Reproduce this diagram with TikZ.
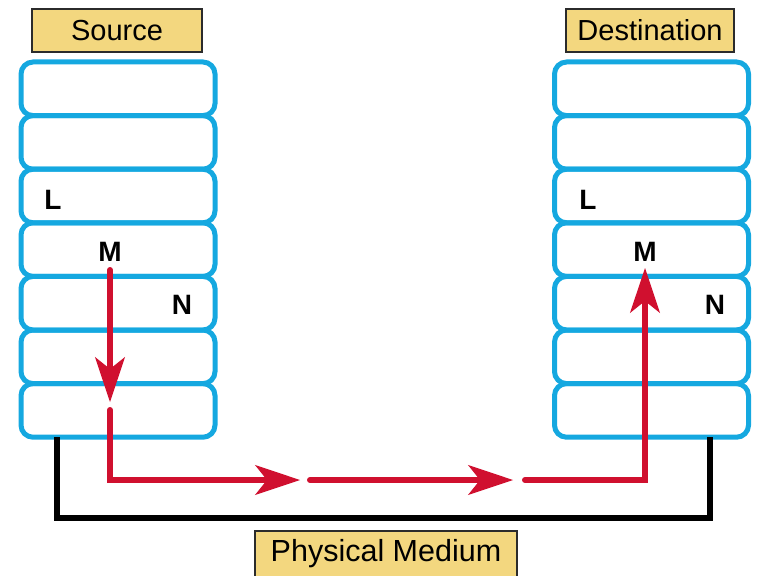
\documentclass[tikz,border=0pt]{standalone}
\usepackage{fontspec}
\setmainfont{Liberation Sans}
\usetikzlibrary{arrows.meta}
\definecolor{layerblue}{HTML}{15A8E0}
\definecolor{flowred}{HTML}{D0102F}
\definecolor{tagfill}{HTML}{F3D77F}
\definecolor{tagline}{HTML}{2B2B2B}
\begin{document}
\begin{tikzpicture}[x=1pt,y=-1pt,
 layer/.style={draw=layerblue, line width=5pt, rounded corners=12pt, minimum width=194pt, minimum height=53.6pt, inner sep=0pt},
 tag/.style={draw=tagline, line width=2pt, fill=tagfill, inner sep=0pt, minimum height=43pt, font=\fontsize{29}{33}\selectfont},
 letter/.style={font=\fontsize{28}{32}\selectfont\bfseries, inner sep=0pt},
 flow/.style={draw=flowred, line width=6pt, line cap=round, -{Stealth[length=45pt,width=30pt,inset=12pt,line width=1pt]}},
 medium/.style={draw=black, line width=5.5pt}]
\useasboundingbox (0,0) rectangle (759,575);
% stacks
\foreach \i in {1,...,7} {
  \node[layer] (s\i) at (118, 35.2+53.6*\i) {};
  \node[layer] (d\i) at (651.5, 35.2+53.6*\i) {};
}
% titles
\node[tag, minimum width=170pt] (src) at (117,30.5) {Source};
\node[tag, minimum width=168pt] (dst) at (650,30.5) {Destination};
\node[tag, minimum width=262pt, minimum height=47pt, font=\fontsize{30.5}{34}\selectfont] (phy) at (386,554) {Physical Medium};
% letters
\node[letter] (sL) at (53,200) {L};
\node[letter] (sM) at (110,252) {M};
\node[letter] (sN) at (182,305) {N};
\node[letter] (dL) at (588,200) {L};
\node[letter] (dM) at (645,252) {M};
\node[letter] (dN) at (715,305) {N};
% medium
\coordinate (mL) at (57,437.2);
\coordinate (mR) at (710,437.2);
\coordinate (mB) at (710,518);
\draw[medium] (mL) |- (mB) -- (mR);
% red flow
\coordinate (a1) at (110,270);
\coordinate (a2) at (110,402);
\coordinate (a3) at (110,410);
\coordinate (a4) at (300,480);
\coordinate (a5) at (310,480);
\coordinate (a6) at (513,480);
\coordinate (a7) at (525,480);
\coordinate (a8) at (645,268);
\draw[flow] (a1) -- (a2);
\draw[flow] (a3) |- (a4);
\draw[flow] (a5) -- (a6);
\draw[flow] (a7) -| (a8);
\end{tikzpicture}
\end{document}
